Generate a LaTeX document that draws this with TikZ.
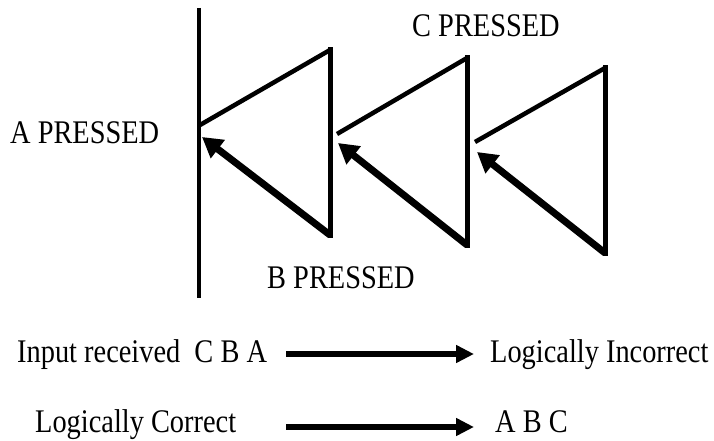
\documentclass[tikz,border=0pt]{standalone}
\usepackage{fontspec}
\setmainfont[FakeStretch=0.86]{Liberation Serif}
\usetikzlibrary{arrows.meta}
\begin{document}
\begin{tikzpicture}[x=1pt,y=-1pt,
  lbl/.style={anchor=base west,inner sep=0pt,font=\fontsize{33}{39}\selectfont},
  wall/.style={line width=4pt},
  upper/.style={line width=4.5pt},
  side/.style={line width=5pt,line cap=rect},
  push/.style={line width=7pt,-{Triangle[length=20pt,width=22pt]}},
  flow/.style={line width=5.5pt,-{Triangle[length=18pt,width=17pt]}}]
\useasboundingbox (0,0) rectangle (714,441);
% vertical line
\coordinate (vt) at (199,8);
\coordinate (vb) at (199,298);
\draw[wall] (vt) -- (vb);
% triangle 1
\coordinate (a1) at (200,125);
\coordinate (t1) at (330,50);
\coordinate (b1) at (330,235);
\coordinate (p1) at (202,137);
% triangle 2
\coordinate (a2) at (337,134);
\coordinate (t2) at (467,58);
\coordinate (b2) at (467,245);
\coordinate (p2) at (338,143);
% triangle 3
\coordinate (a3) at (475,142);
\coordinate (t3) at (605,68);
\coordinate (b3) at (605,253);
\coordinate (p3) at (477,152);
\foreach \i in {1,2,3}{
  \draw[upper] (a\i) -- (t\i);
  \draw[side] (t\i) -- (b\i);
  \draw[push] (b\i) -- (p\i);
}
% labels
\node[lbl] (la) at (10,143) {A PRESSED};
\node[lbl] (lc) at (412,37) {C PRESSED};
\node[lbl] (lb) at (267,288) {B PRESSED};
\node[lbl] (in) at (17,362) {Input received\ \ C B A};
\node[lbl] (inc) at (490,362) {Logically Incorrect};
\node[lbl] (cor) at (35,432) {Logically Correct};
\node[lbl] (abc) at (495,432) {A B C};
% bottom arrows
\coordinate (s1) at (286,354);
\coordinate (e1) at (474,354);
\coordinate (s2) at (286,427);
\coordinate (e2) at (474,427);
\draw[flow] (s1) -- (e1);
\draw[flow] (s2) -- (e2);
\end{tikzpicture}
\end{document}
